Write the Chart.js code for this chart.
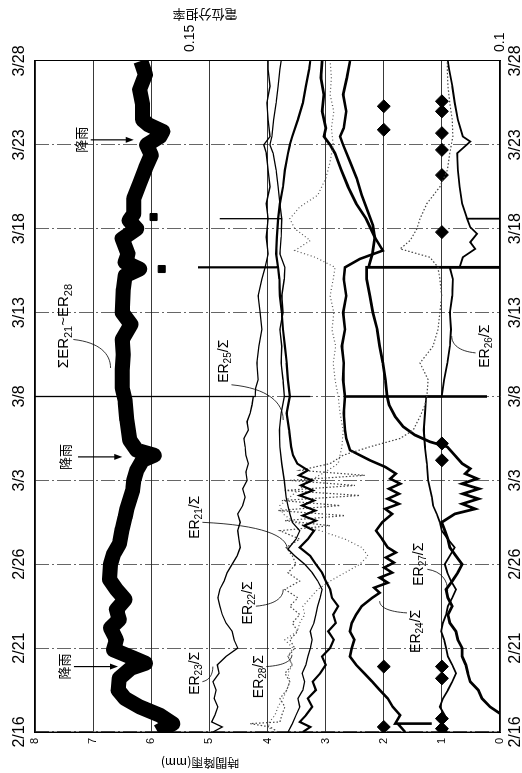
<!DOCTYPE html>
<html>
<head>
<meta charset="utf-8">
<script src="https://cdn.jsdelivr.net/npm/chart.js@4.4.1/dist/chart.umd.min.js"></script>
<style>
  html, body { margin: 0; padding: 0; background: #fff; overflow: hidden; }
  /* the figure is drawn landscape and turned a quarter turn, like the scanned original */
  #wrap { position: absolute; left: 0; top: 0; width: 773px; height: 522px;
          transform-origin: 0 0; transform: translateY(773px) rotate(-90deg); }
</style>
</head>
<body>
<div id="wrap"><canvas id="chart" width="773" height="522"></canvas></div>
<script>
// x = days since 2/16, tick every 5 days
const dateLabels = ["2/16", "2/21", "2/26", "3/3", "3/8", "3/13", "3/18", "3/23", "3/28"];
const ratioTicks = [0.1, 0.15];

// hourly rain (mm) markers
const rainDays = [0.3, 3.9, 35.9, 37.3, 0.2, 0.8, 3.2, 3.9, 16.2, 17.2, 29.8, 33.2, 34.7, 35.7, 37.0, 37.6];
const rainMm = [2, 2, 2, 2, 1, 1, 1, 1, 1, 1, 1, 1, 1, 1, 1, 1];

// sum of ER21..ER28 (left scale)
const sumER = [[0,5.89],[0.5,5.63],[1,5.85],[1.5,6.2],[2,6.45],[2.5,6.57],[3.2,6.55],[3.8,6.35],[4.1,6.1],[4.4,6.3],[4.9,6.65],
  [5.5,6.6],[6.2,6.7],[6.7,6.55],[7.3,6.6],[7.9,6.45],[8.5,6.6],[9.1,6.72],[10,6.7],[10.6,6.65],[11.2,6.55],[12.1,6.5],
  [12.8,6.45],[13.3,6.42],[14.4,6.32],[15,6.3],[15.6,6.25],[16.2,6.15],[16.5,5.95],[16.8,6.25],[17.4,6.37],[18.6,6.42],
  [19.8,6.45],[20.5,6.5],[21.6,6.5],[22.5,6.48],[23.4,6.5],[24.3,6.35],[25,6.5],[26.4,6.48],[27.2,6.45],[27.6,6.2],
  [28,6.45],[28.5,6.4],[29.4,6.5],[30,6.25],[30.5,6.38],[30.9,6.3],[31.8,6.3],[32.7,6.2],[33.6,6.1],[34.4,6.0],
  [35,6.08],[35.5,5.85],[35.8,5.8],[36.2,6.05],[36.5,6.15],[37.4,6.15],[38.3,6.2],[39.2,6.1],[40,6.18]];
const sumERSpikes = [[27.6,5.82],[30.7,5.96]];

// potential share ratios ER2x / Σ (right scale)
const er21 = [[0,0.1342],[0.5,0.1335],[1,0.1329],[1.5,0.1323],[2,0.1326],[2.5,0.1318],[3,0.1315],[3.5,0.1319],[4,0.1313],
  [4.5,0.1310],[5,0.1306],[5.5,0.1303],[6,0.1306],[6.5,0.1300],[7,0.1297],[7.5,0.1294],[8,0.1290],[8.5,0.1287],[9,0.1294],
  [9.5,0.1303],[10,0.1315],[10.5,0.1331],[10.9,0.1342],[11.5,0.1329],[12,0.1323],[12.5,0.1335],[13,0.1339],[13.5,0.1342],
  [14,0.1345],[15,0.1348],[16,0.1352],[17,0.1355],[18,0.1356],[19,0.1353],[20,0.1348],[20,0.1306],[20,0.1348],[21,0.1350],
  [22,0.1353],[23,0.1352],[24,0.1355],[25,0.1350],[26,0.1352],[27,0.1348],[27.7,0.1347],[28.5,0.1355],[29.5,0.1353],
  [30.6,0.1352],[30.6,0.1452],[30.6,0.1352],[31.5,0.1355],[32.5,0.1358],[33.5,0.1361],[34.5,0.1366],[35,0.1371],
  [35.5,0.1368],[36.5,0.1365],[37.5,0.1361],[38.5,0.1358],[39.5,0.1355],[40,0.1353]];
const er22 = [[0,0.1358],[0.3,0.1371],[0.5,0.1403],[0.6,0.1355],[1,0.1352],[1.5,0.1347],[2,0.1355],[2.5,0.1344],[3,0.1339],
  [3.5,0.1347],[4,0.1335],[4.5,0.1342],[5,0.1331],[5.5,0.1339],[6,0.1326],[6.5,0.1335],[7,0.1323],[7.5,0.1339],[8,0.1326],
  [8.5,0.1347],[9,0.1323],[9.5,0.1342],[10,0.1329],[10.5,0.1335],[11,0.1345],[11.5,0.1323],[12,0.1355],[12.3,0.1274],
  [12.6,0.1347],[12.9,0.1250],[13.2,0.1358],[13.5,0.1258],[13.8,0.1352],[14.1,0.1226],[14.4,0.1347],[14.7,0.1234],
  [15,0.1339],[15.3,0.1218],[15.6,0.1323],[16,0.1274],[16.5,0.1253],[17,0.1210],[17.5,0.1161],[18,0.1140],[18.8,0.1129],
  [19.5,0.1121],[20,0.1118],[21,0.1116],[22,0.1129],[23,0.1108],[24,0.1100],[25,0.1097],[26,0.1094],[27,0.1097],
  [27.7,0.1100],[28.3,0.1113],[28.8,0.1161],[29.3,0.1145],[30,0.1134],[30.6,0.1129],[31.5,0.1118],[32.5,0.1097],
  [33.5,0.1085],[34.5,0.1081],[35.5,0.1076],[36.5,0.1077],[37.5,0.1081],[38.5,0.1084],[39.5,0.1085],[40,0.1085]];
const er23 = [[0,0.1463],[0.3,0.1448],[0.6,0.1465],[1,0.1460],[1.5,0.1455],[2,0.1461],[2.5,0.1458],[3,0.1463],[3.5,0.1453],
  [4,0.1456],[4.5,0.1442],[5,0.1423],[5.5,0.1429],[6,0.1432],[6.5,0.1442],[7,0.1448],[7.5,0.1452],[8,0.1455],[8.5,0.1452],
  [9,0.1445],[9.5,0.1440],[10,0.1432],[10.5,0.1424],[11,0.1419],[11.5,0.1421],[12,0.1423],[12.5,0.1419],[13,0.1423],
  [13.5,0.1415],[14,0.1411],[14.5,0.1415],[15,0.1408],[15.5,0.1410],[16,0.1406],[16.5,0.1410],[17,0.1411],[17.5,0.1413],
  [18,0.1406],[18.5,0.1408],[19,0.1403],[19.5,0.1400],[20,0.1398],[20,0.18],[20,0.1395],[20.5,0.1394],[21,0.1390],
  [22,0.1392],[23,0.1389],[24,0.1384],[25,0.1387],[26,0.1390],[27,0.1384],[27.7,0.1379],[28.5,0.1374],[29.5,0.1377],
  [30.6,0.1374],[31.5,0.1377],[32.5,0.1371],[33.5,0.1374],[34.5,0.1377],[35,0.1381],[35.5,0.1371],[36.5,0.1374],
  [37.5,0.1376],[38.5,0.1371],[39.5,0.1374],[40,0.1374]];
const er24 = [[0,0.1153],[0.5,0.1165],[0.5,0.1110],[0.5,0.1169],[1,0.1161],[1.5,0.1173],[2,0.1181],[2.5,0.1194],[3,0.1206],
  [3.5,0.1219],[4,0.1232],[4.5,0.1242],[5,0.1239],[5.5,0.1235],[6,0.1242],[6.5,0.1239],[7,0.1232],[7.5,0.1223],[8,0.1206],
  [8.3,0.1194],[8.6,0.1203],[8.9,0.1181],[9.2,0.1194],[9.5,0.1174],[9.8,0.1187],[10.1,0.1171],[10.4,0.1184],[10.7,0.1168],
  [11,0.1181],[11.5,0.1190],[12,0.1200],[12.5,0.1190],[13,0.1174],[13.3,0.1185],[13.6,0.1163],[13.9,0.1181],[14.2,0.1163],
  [14.5,0.1179],[14.8,0.1161],[15.1,0.1177],[15.4,0.1168],[15.8,0.1185],[16.2,0.1210],[16.8,0.1242],[17.5,0.1248],
  [18,0.1250],[19,0.1252],[20,0.1250],[20,0.1021],[20,0.1250],[21,0.1253],[22,0.1252],[23,0.1255],[24,0.1250],[25,0.1253],
  [26,0.1248],[27,0.1252],[27.7,0.1250],[28.2,0.1226],[28.7,0.1189],[29.5,0.1202],[30.2,0.1205],[31,0.1213],[32,0.1223],
  [33,0.1231],[34,0.1242],[35,0.1253],[35.5,0.1258],[36,0.1252],[37,0.1248],[38,0.1253],[39,0.1247],[40,0.1242]];
const er25 = [[0,0.1318],[0.3,0.1306],[0.6,0.1323],[1,0.1313],[1.5,0.1303],[2,0.1310],[2.5,0.1297],[3,0.1302],[3.5,0.1290],
  [4,0.1281],[4.5,0.1287],[5,0.1274],[5.5,0.1268],[6,0.1277],[6.5,0.1265],[7,0.1269],[7.5,0.1261],[8,0.1271],[8.5,0.1274],
  [9,0.1281],[9.5,0.1287],[10,0.1297],[10.5,0.1306],[11,0.1323],[11.5,0.1310],[12,0.1300],[12.3,0.1316],[12.6,0.1297],
  [12.9,0.1318],[13.2,0.1298],[13.5,0.1319],[13.8,0.1300],[14.1,0.1323],[14.4,0.1302],[14.7,0.1321],[15,0.1303],
  [15.3,0.1324],[15.6,0.1310],[16,0.1327],[16.5,0.1334],[17,0.1337],[18,0.1340],[19,0.1344],[19.8,0.1340],[20,0.1339],
  [21,0.1342],[22,0.1344],[23,0.1347],[24,0.1350],[25,0.1352],[26,0.1355],[27,0.1356],[27.7,0.1358],[27.7,0.1487],
  [27.7,0.1358],[28.5,0.1361],[29.5,0.1360],[30.6,0.1358],[31.5,0.1355],[32.5,0.1350],[33.5,0.1347],[34.5,0.1342],
  [35,0.1339],[35.5,0.1335],[36.5,0.1326],[37.5,0.1318],[38.5,0.1313],[39.5,0.1308],[40,0.1306]];
const er26 = [[0,0.1085],[0.5,0.1094],[1,0.1089],[1.5,0.1097],[2,0.1092],[2.5,0.1084],[3,0.1077],[3.5,0.1071],[4,0.1077],
  [4.5,0.1084],[5,0.1087],[5.5,0.1090],[6,0.1095],[6.5,0.1092],[7,0.1087],[7.5,0.1084],[8,0.1077],[8.5,0.1071],[9,0.1079],
  [9.5,0.1085],[10,0.1089],[10.5,0.1081],[11,0.1073],[11.5,0.1084],[12,0.1094],[12.5,0.1097],[13,0.1102],[13.5,0.1108],
  [14,0.1110],[15,0.1116],[16,0.1118],[17,0.1121],[18,0.1123],[19,0.1121],[20,0.1119],[20,0.1094],[21,0.1090],[22,0.1085],
  [23,0.1081],[24,0.1079],[25,0.1081],[26,0.1077],[27,0.1076],[27.7,0.1081],[27.7,0.0985],[27.7,0.1065],[28.3,0.1060],
  [28.8,0.1040],[29.2,0.1048],[29.7,0.1037],[30.1,0.1048],[30.6,0.1053],[30.6,0.0985],[30.6,0.1053],[31.5,0.1061],
  [32.5,0.1065],[33.5,0.1068],[34.5,0.1069],[35.2,0.1048],[35.5,0.1060],[36.5,0.1068],[37.5,0.1073],[38.5,0.1077],
  [39.5,0.1082],[40,0.1084]];
const er27 = [[0,0.0985],[1.1,0.1000],[1.5,0.1016],[2,0.1029],[2.5,0.1035],[3,0.1048],[3.5,0.1052],[4,0.1055],[4.5,0.1061],
  [5,0.1061],[5.5,0.1068],[6,0.1071],[6.5,0.1081],[7,0.1084],[7.5,0.1077],[8,0.1084],[8.5,0.1087],[9,0.1077],[9.5,0.1068],
  [10,0.1061],[10.5,0.1071],[11,0.1081],[11.5,0.1084],[12,0.1089],[12.5,0.1094],[13,0.1073],[13.3,0.1040],[13.6,0.1061],
  [13.9,0.1035],[14.2,0.1060],[14.5,0.1034],[14.8,0.1061],[15.1,0.1037],[15.4,0.1056],[15.7,0.1048],[16,0.1061],
  [16.5,0.1073],[17,0.1085],[17.3,0.1113],[17.7,0.1137],[18.2,0.1156],[18.8,0.1169],[19.5,0.1179],[20,0.1182],[21,0.1185],
  [22,0.1189],[23,0.1194],[24,0.1198],[25,0.1205],[26,0.1210],[27,0.1215],[27.7,0.1215],[27.7,0.0985],[27.7,0.1212],
  [28.5,0.1206],[29.5,0.1202],[30.6,0.1216],[31.5,0.1232],[32.5,0.1245],[33.5,0.1256],[34.5,0.1266],[35,0.1274],
  [35.5,0.1284],[36,0.1281],[37,0.1287],[38,0.1284],[39,0.1289],[40,0.1287]];
const er28 = [[0,0.1368],[0.5,0.1374],[1,0.1363],[1.5,0.1358],[2,0.1350],[2.5,0.1344],[3,0.1339],[3.5,0.1342],[4,0.1335],
  [4.5,0.1342],[5,0.1334],[5.5,0.1347],[6,0.1327],[6.5,0.1323],[7,0.1315],[7.5,0.1318],[8,0.1306],[8.5,0.1294],[9,0.1274],
  [9.5,0.1250],[10,0.1226],[10.5,0.1213],[11,0.1223],[11.5,0.1250],[12,0.1290],[12.5,0.1331],[13,0.1350],[13.5,0.1355],
  [14,0.1339],[15,0.1306],[15.5,0.1282],[16,0.1261],[17,0.1255],[18,0.1253],[19,0.1258],[20,0.1261],[21,0.1266],
  [22,0.1269],[23,0.1265],[24,0.1271],[25,0.1268],[26,0.1274],[27,0.1269],[27.7,0.1266],[28.3,0.1298],[28.7,0.1331],
  [29.3,0.1306],[30,0.1331],[30.6,0.1339],[31.3,0.1323],[32,0.1294],[33,0.1281],[34,0.1274],[35,0.1269],[36,0.1272],
  [37,0.1268],[38,0.1274],[39,0.1272],[40,0.1274]];

// callout labels, placed in (day, left-scale value)
const notes = [
  { parts: [["ΣER",0],["21",1],["~ER",0],["28",1]], at: [24.2, 7.52], from: [23.4, 7.34], to: [21.7, 6.7], size: 15 },
  { parts: [["ER",0],["25",1],["/Σ",0]], at: [22.1, 4.77], from: [20.7, 4.62], to: [18.6, 3.73] },
  { parts: [["ER",0],["26",1],["/Σ",0]], at: [23.0, 0.28], from: [22.6, 0.42], to: [23.6, 0.83] },
  { parts: [["ER",0],["21",1],["/Σ",0]], at: [12.8, 5.27], from: [12.5, 5.12], to: [10.9, 3.66] },
  { parts: [["ER",0],["22",1],["/Σ",0]], at: [7.7, 4.35], from: [7.5, 4.2], to: [8.5, 3.73] },
  { parts: [["ER",0],["23",1],["/Σ",0]], at: [3.5, 5.27], from: [3.0, 5.12], to: [3.9, 4.94] },
  { parts: [["ER",0],["28",1],["/Σ",0]], at: [3.3, 4.17], from: [3.9, 4.02], to: [4.6, 3.58] },
  { parts: [["ER",0],["24",1],["/Σ",0]], at: [6.0, 1.46], from: [7.1, 1.6], to: [7.8, 2.07] },
  { parts: [["ER",0],["27",1],["/Σ",0]], at: [10.0, 1.41], from: [9.7, 1.25], to: [8.4, 0.9] }
];
const rainNotes = [
  { at: [3.9, 7.5], from: 7.33, to: 6.57 },
  { at: [16.4, 7.49], from: 7.26, to: 6.5 },
  { at: [35.3, 7.21], from: 7.04, to: 6.3 }
];

const latin = "'Liberation Sans Narrow', 'Liberation Sans', Arial, sans-serif";
const cjk = "'Noto Sans CJK JP', 'Noto Sans CJK SC', sans-serif";

const toXY = arr => arr.map(([x, y]) => ({ x, y }));

function erLine(label, data, width, dash, color) {
  return {
    label, data: toXY(data), yAxisID: "y1",
    borderColor: color || "#000", borderWidth: width, borderDash: dash || [],
    pointRadius: 0, tension: 0, fill: false
  };
}

function drawParts(ctx, parts, cx, cy, size) {
  const fontOf = sub => (sub ? Math.round(size * 0.7) : size) + "px " + latin;
  let w = 0;
  parts.forEach(([t, sub]) => { ctx.font = fontOf(sub); w += ctx.measureText(t).width; });
  let x = cx - w / 2;
  ctx.textAlign = "left";
  ctx.textBaseline = "alphabetic";
  parts.forEach(([t, sub]) => {
    ctx.font = fontOf(sub);
    ctx.fillText(t, x, cy + size * 0.36 + (sub ? size * 0.22 : 0));
    x += ctx.measureText(t).width;
  });
}

const overlay = {
  id: "overlay",
  afterDatasetsDraw(chart) {
    const { ctx } = chart;
    const px = d => chart.scales.x.getPixelForValue(d);
    const py = v => chart.scales.y.getPixelForValue(v);
    ctx.save();
    ctx.fillStyle = "#000";
    ctx.strokeStyle = "#000";

    notes.forEach(n => {
      drawParts(ctx, n.parts, px(n.at[0]), py(n.at[1]), n.size || 14);
      const x1 = px(n.from[0]), y1 = py(n.from[1]), x2 = px(n.to[0]), y2 = py(n.to[1]);
      ctx.lineWidth = 0.8;
      ctx.beginPath();
      ctx.moveTo(x1, y1);
      ctx.bezierCurveTo(x1 + (x2 - x1) * 0.1, y1 + (y2 - y1) * 0.7, x1 + (x2 - x1) * 0.5, y2, x2, y2);
      ctx.stroke();
    });

    rainNotes.forEach(r => {
      const xx = px(r.at[0]);
      ctx.font = "13px " + cjk;
      ctx.textAlign = "center";
      ctx.textBaseline = "middle";
      ctx.fillText("降雨", xx, py(r.at[1]));
      const a1 = py(r.from), a2 = py(r.to);
      ctx.lineWidth = 1.2;
      ctx.beginPath();
      ctx.moveTo(xx, a1);
      ctx.lineTo(xx, a2 - 5);
      ctx.stroke();
      ctx.beginPath();
      ctx.moveTo(xx - 3, a2 - 8);
      ctx.lineTo(xx + 3, a2 - 8);
      ctx.lineTo(xx, a2);
      ctx.closePath();
      ctx.fill();
    });
    ctx.restore();
  },
  afterDraw(chart) {
    const { ctx } = chart;
    ctx.save();
    ctx.fillStyle = "#000";
    ctx.textAlign = "center";
    ctx.textBaseline = "middle";
    ctx.font = "12px " + cjk;
    ctx.translate(10, 200);
    ctx.rotate(-Math.PI / 2);
    ctx.fillText("時間降雨(mm)", 0, 0);
    ctx.restore();

    ctx.save();
    ctx.fillStyle = "#000";
    ctx.textAlign = "center";
    ctx.textBaseline = "middle";
    ctx.font = "13px " + cjk;
    ctx.translate(758, 205);
    ctx.rotate(-Math.PI / 2);
    ctx.fillText("電位分担率", 0, 0);
    ctx.restore();
  }
};

const datasets = [
  {
    label: "ΣER21~ER28", data: toXY(sumER), yAxisID: "y",
    borderColor: "#000", borderWidth: 15, borderJoinStyle: "round", borderCapStyle: "butt",
    pointRadius: 0, tension: 0, fill: false
  },
  {
    label: "ΣER spikes", data: toXY(sumERSpikes), yAxisID: "y", showLine: false,
    pointStyle: "rect", pointRadius: 5, backgroundColor: "#000", borderColor: "#000"
  },
  erLine("ER23/Σ", er23, 1.3),
  erLine("ER21/Σ", er21, 1.3),
  erLine("ER25/Σ", er25, 2.2),
  erLine("ER22/Σ", er22, 1.2, [1.5, 2], "#444"),
  erLine("ER28/Σ", er28, 1.2, [1, 2.5], "#555"),
  erLine("ER24/Σ", er24, 2.6),
  erLine("ER26/Σ", er26, 1.8),
  erLine("ER27/Σ", er27, 2.8),
  {
    label: "降雨", data: rainDays.map((d, i) => ({ x: d, y: rainMm[i] })), yAxisID: "y", showLine: false,
    pointStyle: "rectRot", pointRadius: 6.5, backgroundColor: "#000", borderColor: "#000"
  }
];

new Chart(document.getElementById("chart"), {
  type: "line",
  data: { datasets },
  options: {
    responsive: false,
    animation: false,
    devicePixelRatio: 1,
    layout: { padding: 0 },
    font: { family: latin },
    plugins: { legend: { display: false }, tooltip: { enabled: false } },
    scales: {
      x: {
        type: "linear", position: "bottom", min: 0, max: 40,
        ticks: { stepSize: 5, color: "#000", padding: 6, font: { size: 16, family: latin },
                 callback: v => dateLabels[Math.round(v / 5)] },
        grid: { color: "#666", lineWidth: 1, drawTicks: false },
        border: { display: true, color: "#000", width: 1.2, dash: [14, 3, 2, 3] },
        afterFit: s => { s.height = 22; }
      },
      x2: {
        type: "linear", position: "top", min: 0, max: 40,
        ticks: { stepSize: 5, color: "#000", padding: 6, font: { size: 16, family: latin },
                 callback: v => dateLabels[Math.round(v / 5)] },
        grid: { display: false, drawTicks: false },
        border: { display: true, color: "#000", width: 1.2 },
        afterFit: s => { s.height = 35; }
      },
      y: {
        position: "left", min: 0, max: 8,
        ticks: { stepSize: 1, color: "#000", padding: 6, font: { size: 11, family: latin } },
        grid: { color: "#222", lineWidth: 0.9, drawTicks: false },
        border: { display: true, color: "#000", width: 1.4 },
        afterFit: s => { s.width = 41; }
      },
      y1: {
        position: "right", min: 0.1, max: 0.175,
        ticks: { color: "#000", padding: 9, font: { size: 14, family: latin }, callback: v => String(v) },
        afterBuildTicks: s => { s.ticks = ratioTicks.map(v => ({ value: v })); },
        grid: { display: false, drawTicks: false },
        border: { display: true, color: "#000", width: 1 },
        afterFit: s => { s.width = 61; }
      }
    }
  },
  plugins: [overlay]
});
</script>
</body>
</html>
